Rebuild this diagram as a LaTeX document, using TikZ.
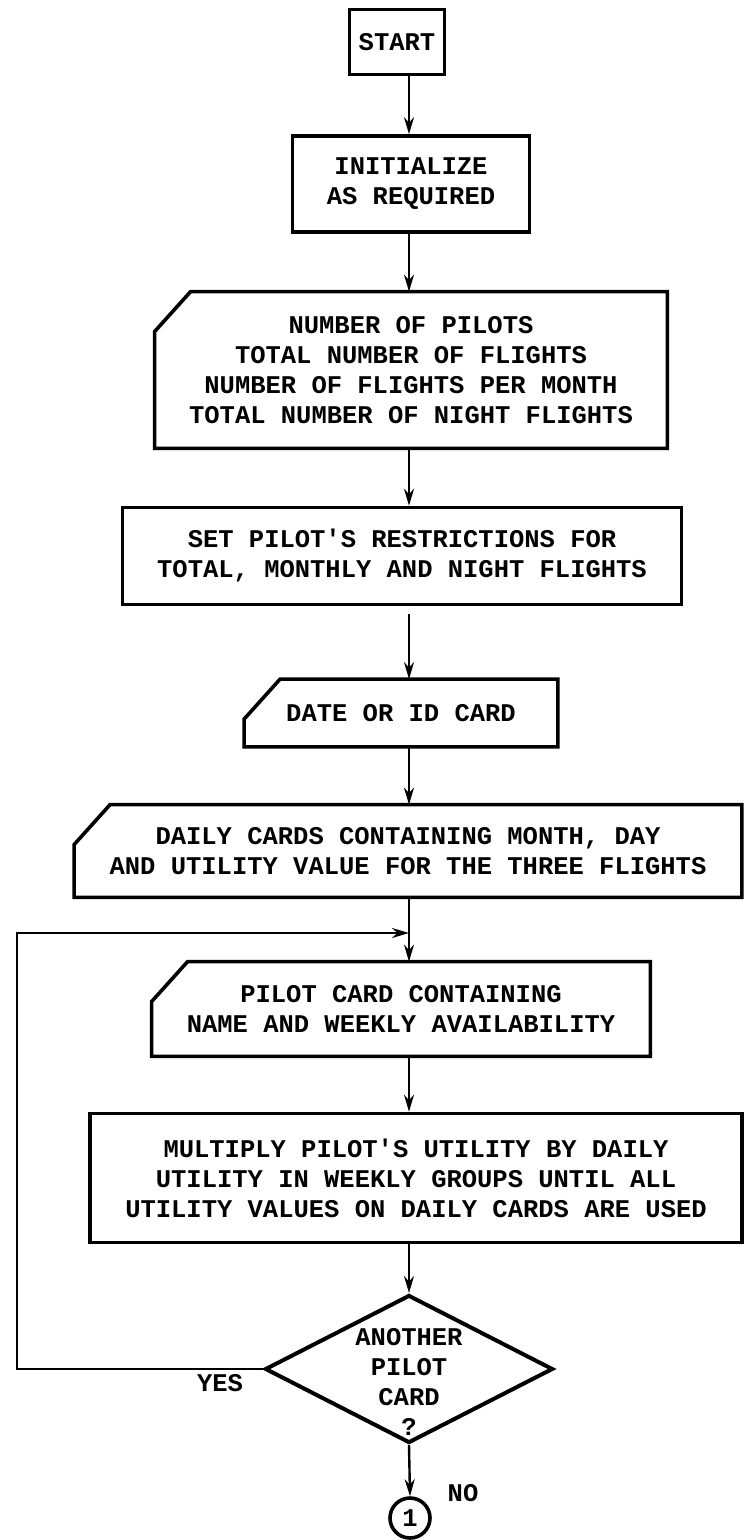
\documentclass[tikz,border=0pt]{standalone}
\usepackage{fontspec}
\setmonofont{Liberation Mono}
\usetikzlibrary{arrows.meta,shapes.geometric}

\begin{document}
\begin{tikzpicture}[x=0.5pt, y=-0.5pt,
  typed/.style={font=\ttfamily\bfseries\fontsize{12.75}{15}\selectfont},
  box/.style={typed, draw, line width=1.8pt, inner sep=0pt, align=center},
  card/.style={typed, inner sep=0pt, align=center},
  decision/.style={diamond, draw, line width=2pt, inner sep=0pt, minimum width=144pt, minimum height=74pt},
  lbl/.style={typed, inner sep=0pt, align=center},
  conn/.style={typed, circle, draw, line width=1.8pt, inner sep=0pt, minimum size=20pt},
  arr/.style={line width=1.2pt, -{Stealth[length=8.5pt,width=5pt]}}]
  \useasboundingbox (0,0) rectangle (746,1540);
  % card outline: box with the top left corner cut off
  \newcommand{\drawcard}[1]{\draw[line width=1.8pt] ([xshift=18pt]#1.north west) -- (#1.north east) -- (#1.south east) -- (#1.south west) -- ([yshift=-20pt]#1.north west) -- cycle;}
  \coordinate (spine) at (409,0);
  \coordinate (loopx) at (17,0);
  \coordinate (join) at (409,933);
  % Main column
  \node[box, minimum width=47.5pt, minimum height=32.5pt] (start) at (397,42) {START};
  \node[box, minimum width=118.5pt, minimum height=48pt] (init) at (411,184) {INITIALIZE\\AS REQUIRED};
  \node[card, minimum width=256pt, minimum height=78pt] (pars) at (411,370) {NUMBER OF PILOTS\\TOTAL NUMBER OF FLIGHTS\\NUMBER OF FLIGHTS PER MONTH\\TOTAL NUMBER OF NIGHT FLIGHTS};
  \drawcard{pars}
  \node[box, minimum width=279.5pt, minimum height=48.5pt] (restr) at (402,556) {SET PILOT'S RESTRICTIONS FOR\\TOTAL, MONTHLY AND NIGHT FLIGHTS};
  \node[card, minimum width=156.5pt, minimum height=33.5pt] (date) at (401,713) {DATE OR ID CARD};
  \drawcard{date}
  \node[card, minimum width=333.5pt, minimum height=46pt] (daily) at (408,851) {DAILY CARDS CONTAINING MONTH, DAY\\AND UTILITY VALUE FOR THE THREE FLIGHTS};
  \drawcard{daily}
  \node[card, minimum width=249pt, minimum height=47pt] (pcard) at (401,1009) {PILOT CARD CONTAINING\\NAME AND WEEKLY AVAILABILITY};
  \drawcard{pcard}
  \node[box, minimum width=326pt, minimum height=64.5pt] (mult) at (416,1178) {MULTIPLY PILOT'S UTILITY BY DAILY\\UTILITY IN WEEKLY GROUPS UNTIL ALL\\UTILITY VALUES ON DAILY CARDS ARE USED};
  % Decision and exit
  \node[decision] (more) at (409,1369) {};
  \node[lbl] (moretxt) at (409,1382) {ANOTHER\\PILOT\\CARD\\?};
  \node[conn] (off1) at (410,1518) {1};
  \node[lbl] (yes) at (220,1383) {YES};
  \node[lbl] (no) at (463,1493) {NO};
  % Connectors
  \draw[arr] (start.south -| spine) -- (init.north -| spine);
  \draw[arr] (init.south -| spine) -- (pars.north -| spine);
  \draw[arr] (pars.south -| spine) -- (restr.north -| spine);
  \draw[arr] ([yshift=-4pt]restr.south -| spine) -- (date.north -| spine);
  \draw[arr] (date.south -| spine) -- (daily.north -| spine);
  \draw[arr] (daily.south -| spine) -- (pcard.north -| spine);
  \draw[arr] (pcard.south -| spine) -- (mult.north -| spine);
  \draw[arr] (mult.south -| spine) -- (more.north);
  \draw[arr] (more.south) -- (off1.north);
  \draw[arr] (more.west) -- (more.west -| loopx) |- (join);
\end{tikzpicture}
\end{document}
